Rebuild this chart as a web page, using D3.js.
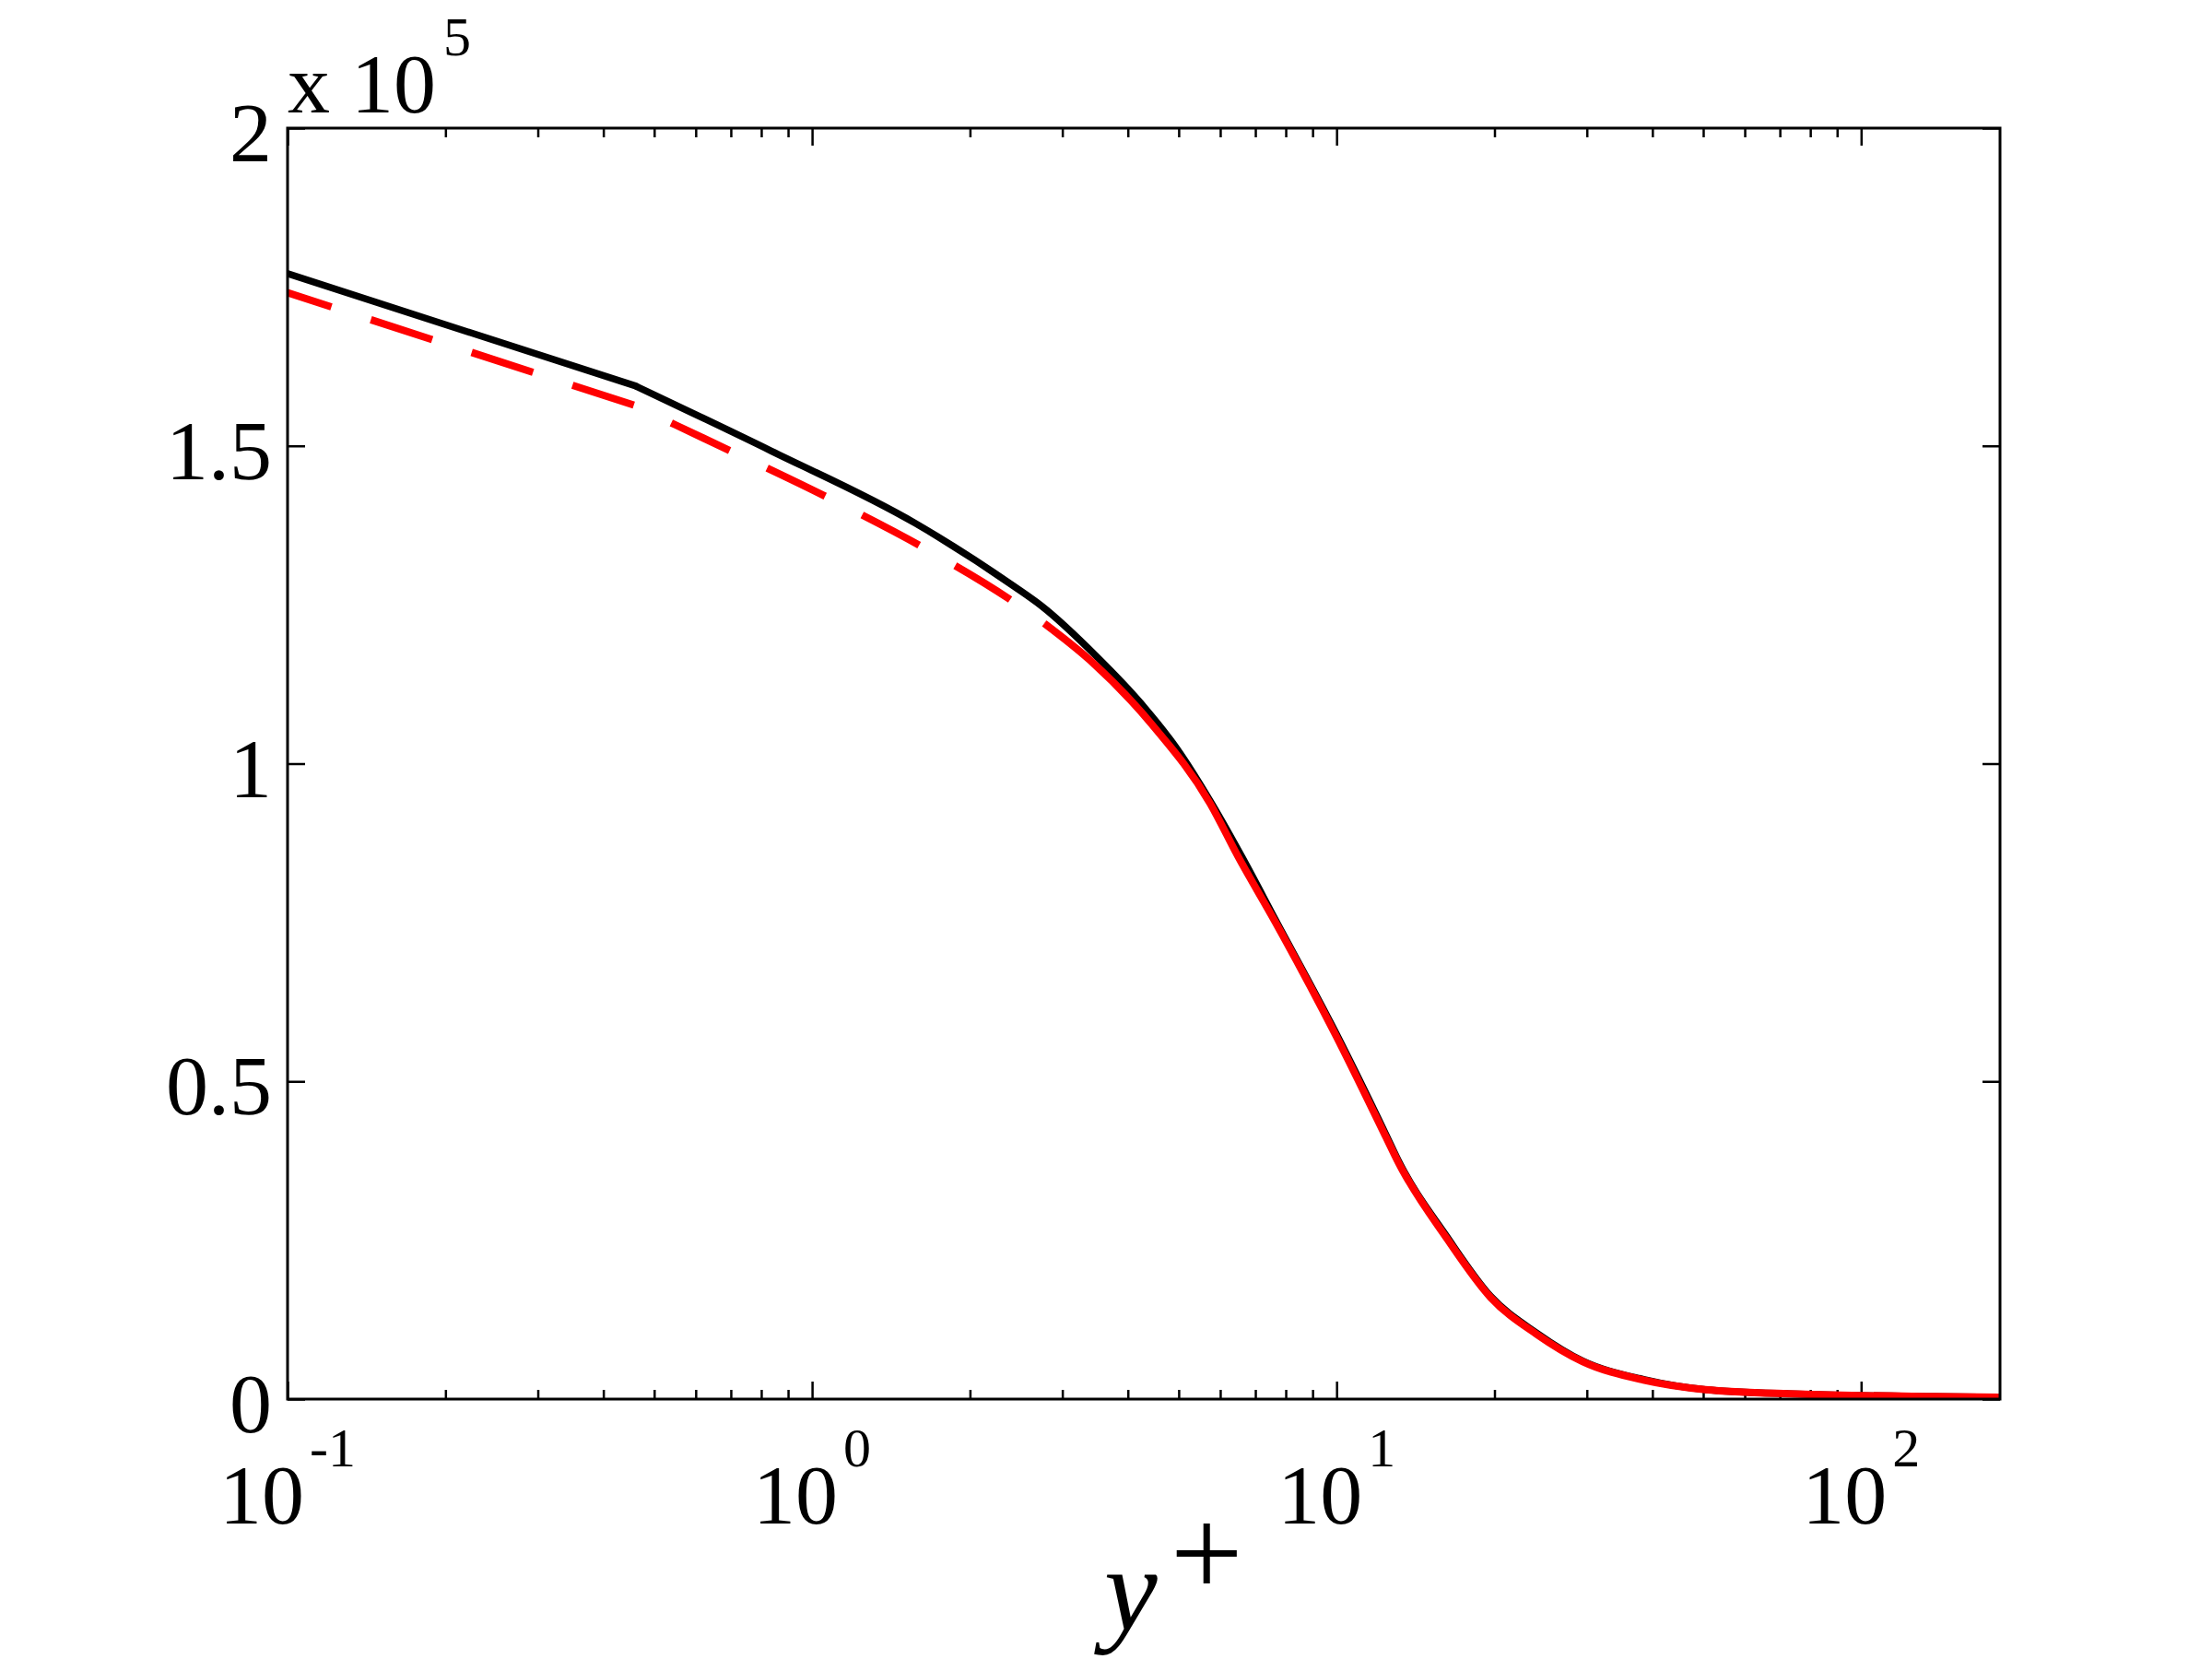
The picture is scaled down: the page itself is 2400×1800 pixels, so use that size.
<!DOCTYPE html>
<html>
<head>
<meta charset="utf-8">
<script src="https://cdn.jsdelivr.net/npm/d3@7"></script>
<style>
  body { margin: 0; background: #fff; }
  text { font-family: "Liberation Serif", "DejaVu Serif", serif; fill: #000; }
</style>
</head>
<body>
<div id="viz"></div>
<script>
// y+ positions and values (values in units of 10^5)
const blackYPlus = [0.1, 0.4616, 0.836, 1.575, 2.426, 2.739, 3.492, 4.224, 4.966, 5.743, 6.592, 7.626,
                    10.0, 12.39, 13.12, 16.25, 19.66, 24.07, 29.46, 38.48, 50.47, 75.7, 138.6, 184];
const blackValues = [1.771, 1.594, 1.492, 1.378, 1.279, 1.248, 1.168, 1.096, 1.023, 0.941, 0.854, 0.756,
                     0.574, 0.418, 0.375, 0.255, 0.162, 0.104, 0.060, 0.031, 0.015, 0.008, 0.004, 0.003];

const redYPlus = [0.1, 0.4616, 0.549, 1.093, 1.638, 2.397, 2.773, 3.395, 4.452, 5.743, 6.486, 7.626,
                  10.0, 12.39, 13.12, 16.25, 19.66, 24.07, 29.46, 38.48, 50.47, 75.7, 138.6, 184];
const redValues = [1.741, 1.563, 1.533, 1.415, 1.339, 1.257, 1.2205, 1.162, 1.061, 0.937, 0.854, 0.752,
                   0.570, 0.414, 0.372, 0.252, 0.160, 0.102, 0.059, 0.030, 0.015, 0.008, 0.004, 0.003];
// first grid segment is straight (kink at the second point)
const kinkYPlus = 0.4616;
// the red line only shows as dashes up to this y+
const redDashEnd = 2.773;

const xMajorTicks = [0.1, 1, 10, 100];
const xTickExponents = ['-1', '0', '1', '2'];
const yTicks = [0, 0.5, 1, 1.5, 2];
const yTickLabels = ['0', '0.5', '1', '1.5', '2'];

const dimensions = {
    width: 2400,
    height: 1800,
    margins: { left: 312, right: 230, top: 139, bottom: 282 }
};
dimensions.boundedWidth = dimensions.width - dimensions.margins.left - dimensions.margins.right;
dimensions.boundedHeight = dimensions.height - dimensions.margins.top - dimensions.margins.bottom;

const svg = d3.select('#viz').append('svg')
    .attr('width', dimensions.width)
    .attr('height', dimensions.height)
    .style('background', '#fff');

const bounds = svg.append('g')
    .attr('transform', `translate(${dimensions.margins.left},${dimensions.margins.top})`);

const x = d3.scaleLog()
    .domain([0.1, 184])
    .range([0, dimensions.boundedWidth]);

const y = d3.scaleLinear()
    .domain([0, 2])
    .range([dimensions.boundedHeight, 0]);

svg.append('defs').append('clipPath').attr('id', 'plot-clip')
    .append('rect')
    .attr('width', dimensions.boundedWidth)
    .attr('height', dimensions.boundedHeight);

// ticks (inside, on all four sides)
const minorTicks = x.ticks().filter(t => !xMajorTicks.includes(t));

function tickAxis(axis, values, size) {
    return axis.tickValues(values).tickSize(-size).tickFormat('');
}

const xb = bounds.append('g').attr('transform', `translate(0,${dimensions.boundedHeight})`);
xb.append('g').call(tickAxis(d3.axisBottom(x), xMajorTicks, 19));
xb.append('g').call(tickAxis(d3.axisBottom(x), minorTicks, 10));
const xt = bounds.append('g');
xt.append('g').call(tickAxis(d3.axisTop(x), xMajorTicks, 19));
xt.append('g').call(tickAxis(d3.axisTop(x), minorTicks, 10));
bounds.append('g').call(tickAxis(d3.axisLeft(y), yTicks, 19));
bounds.append('g').attr('transform', `translate(${dimensions.boundedWidth},0)`)
    .call(tickAxis(d3.axisRight(y), yTicks, 19));

bounds.selectAll('.domain').remove();
bounds.selectAll('.tick line').attr('stroke', '#000').attr('stroke-width', 2.5);

// curves: straight first segment, smooth after
const straight = d3.line()
    .x(d => x(d[0]))
    .y(d => y(d[1]));
const smooth = d3.line()
    .x(d => x(d[0]))
    .y(d => y(d[1]))
    .curve(d3.curveMonotoneX);

const plot = bounds.append('g').attr('clip-path', 'url(#plot-clip)');

const blackData = d3.zip(blackYPlus, blackValues);
const redData = d3.zip(redYPlus, redValues);

function drawPart(data, gen, color, width) {
    return plot.append('path')
        .datum(data)
        .attr('d', gen)
        .attr('fill', 'none')
        .attr('stroke', color)
        .attr('stroke-width', width)
        .attr('stroke-linejoin', 'round');
}

drawPart(blackData.filter(d => d[0] <= kinkYPlus), straight, '#000', 7.5).attr('stroke-linecap', 'round');
drawPart(blackData.filter(d => d[0] >= kinkYPlus), smooth, '#000', 7.5);

const dash = [70, 45];
const redA = drawPart(redData.filter(d => d[0] <= kinkYPlus), straight, '#ff0000', 8)
    .attr('stroke-dasharray', dash.join(','))
    .attr('stroke-dashoffset', 20);
const redB = drawPart(redData.filter(d => d[0] >= kinkYPlus && d[0] <= redDashEnd), smooth, '#ff0000', 8)
    .attr('stroke-dasharray', dash.join(','))
    .attr('stroke-dashoffset', 20 + redA.node().getTotalLength());
drawPart(redData.filter(d => d[0] >= redDashEnd), smooth, '#ff0000', 8);

// frame
bounds.append('rect')
    .attr('width', dimensions.boundedWidth)
    .attr('height', dimensions.boundedHeight)
    .attr('fill', 'none')
    .attr('stroke', '#000')
    .attr('stroke-width', 3);

// y tick labels
bounds.selectAll('.ylab')
    .data(yTicks)
    .enter().append('text')
        .attr('class', 'ylab')
        .attr('x', -17)
        .attr('y', d => y(d) + 36)
        .attr('text-anchor', 'end')
        .style('font-size', '92px')
        .text((d, i) => yTickLabels[i]);

// x tick labels: 10 with exponent
const xl = bounds.selectAll('.xlab')
    .data(xMajorTicks)
    .enter().append('text')
        .attr('class', 'xlab')
        .attr('x', d => x(d))
        .attr('y', dimensions.boundedHeight + 135)
        .attr('text-anchor', 'middle')
        .style('font-size', '92px');
xl.append('tspan').text('10');
xl.append('tspan')
    .attr('dx', 6)
    .attr('dy', -62)
    .style('font-size', '60px')
    .text((d, i) => xTickExponents[i]);

// multiplier
const mult = bounds.append('text')
    .attr('x', 0)
    .attr('y', -17)
    .style('font-size', '92px');
mult.append('tspan').text('x 10');
mult.append('tspan').attr('dx', 8).attr('dy', -62).style('font-size', '60px').text('5');

// x axis label
const xlabel = svg.append('text')
    .attr('x', 1198)
    .attr('y', 1768);
xlabel.append('tspan').style('font-size', '130px').style('font-style', 'italic').text('y');
xlabel.append('tspan').attr('dx', 14).attr('dy', -36).style('font-size', '140px').text('+');
</script>
</body>
</html>
